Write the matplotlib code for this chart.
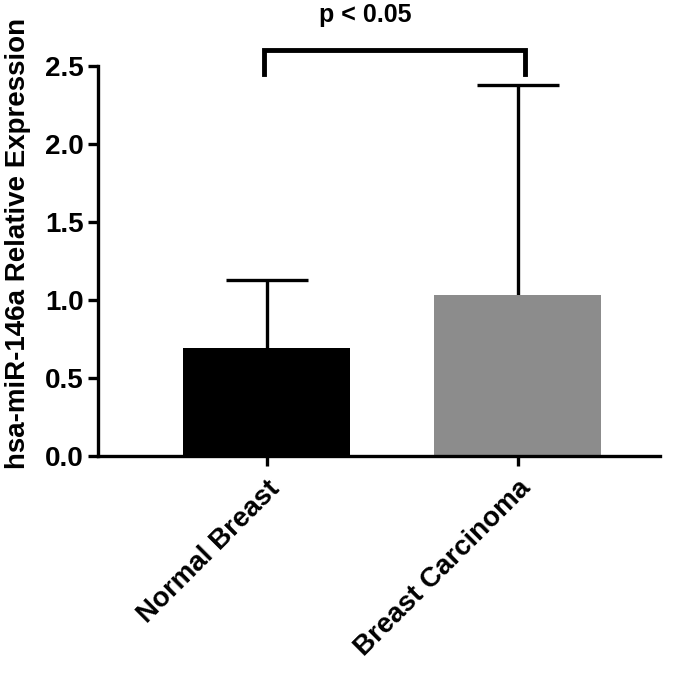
import matplotlib
matplotlib.use("Agg")
import matplotlib.pyplot as plt

groups = ["Normal Breast", "Breast Carcinoma"]
means = [0.69, 1.03]
upper_err = [0.44, 1.35]
bar_colors = ["#000000", "#8c8c8c"]
yticks = [0.0, 0.5, 1.0, 1.5, 2.0, 2.5]
p_text = "p < 0.05"

plt.rcParams["font.family"] = ["Liberation Sans", "DejaVu Sans"]
plt.rcParams["font.weight"] = "bold"

fig = plt.figure(figsize=(6.89, 6.74), dpi=100)
ax = fig.add_axes([0.142, 0.3234, 0.816, 0.5786])

x = list(range(len(groups)))
ax.bar(x, means, width=0.665, color=bar_colors, edgecolor="none", zorder=2)

# one-sided (upper) error bars
tops = [m + e for m, e in zip(means, upper_err)]
ax.vlines(x, means, tops, color="black", lw=2.4, zorder=1)
ax.hlines(tops, [i - 0.163 for i in x], [i + 0.163 for i in x],
          color="black", lw=2.4, zorder=1)

ax.set_xlim(-0.673, 1.566)
ax.set_ylim(0, 2.5)
ax.set_yticks(yticks)
ax.set_yticklabels([f"{v:.1f}" for v in yticks], fontsize=20, fontweight="bold")
ax.set_xticks(x)
ax.set_xticklabels(groups, rotation=45, ha="right", rotation_mode="anchor",
                   fontsize=20, fontweight="bold")
ax.set_ylabel("hsa-miR-146a Relative Expression", fontsize=20, fontweight="bold")
ax.yaxis.set_label_coords(-0.118, 0.545)

for side in ["top", "right"]:
    ax.spines[side].set_visible(False)
for side in ["left", "bottom"]:
    ax.spines[side].set_linewidth(2.4)
ax.tick_params(axis="both", width=2.4, length=7)
ax.tick_params(axis="y", pad=3)
ax.tick_params(axis="x", pad=7)

# significance bracket
bx = [-0.012, -0.012, 1.03, 1.03]
by = [2.449, 2.603, 2.603, 2.449]
ax.plot(bx, by, color="black", lw=3.5, clip_on=False, solid_joinstyle="miter")
ax.text(0.39, 2.83, p_text, ha="center", va="center", fontsize=18,
        fontweight="bold")

fig.savefig("out.png", dpi=100)
